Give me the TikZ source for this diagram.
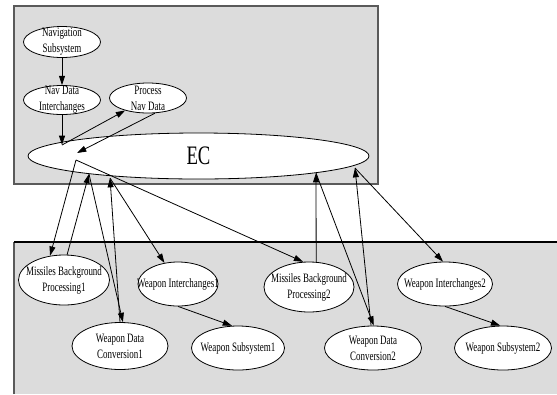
\documentclass[tikz,border=0pt]{standalone}
\usepackage{fontspec}
\newfontfamily\gvfont[FakeStretch=0.7]{Liberation Serif}
\usetikzlibrary{shapes.geometric,arrows.meta}
\definecolor{clusterfill}{RGB}{220,220,220}
\definecolor{clusterline}{RGB}{90,90,90}

\begin{document}
\begin{tikzpicture}[x=0.75pt,y=0.75pt,yscale=-1,xscale=1,
  task/.style={draw,ellipse,fill=white,line width=0.6pt,inner sep=0pt},
  tasktext/.style={font=\gvfont\fontsize{9.6}{12}\selectfont,align=center,inner sep=0pt},
  link/.style={line width=0.6pt,-{Triangle[length=7pt,width=4.5pt]}}]
\useasboundingbox (0,0) rectangle (557,394);

%Shape: Rectangle (upper cluster)
\draw [fill=clusterfill,draw=clusterline,line width=1pt] (14,6) rectangle (378,184);
%Shape: Rectangle (lower cluster)
\fill [clusterfill] (14,242) rectangle (557,394);
\draw [clusterline,line width=1pt] (14,394) -- (14,242);
\draw [line width=1pt] (14,242) -- (557,242);

%Shape: Ellipses (upper cluster)
\node [task,minimum width=57.75pt,minimum height=23.25pt,label={[tasktext]center:{Navigation\\Subsystem}}] (navsub) at (62,42) {};
\node [task,minimum width=57.75pt,minimum height=21.75pt,label={[tasktext]center:{Nav Data\\Interchanges}}] (navdata) at (62,100) {};
\node [task,minimum width=57.75pt,minimum height=22.5pt,label={[tasktext]center:{Process\\Nav Data}}] (procnav) at (148,98) {};
\node [task,minimum width=255.75pt,minimum height=34.5pt,label={[tasktext,font=\gvfont\fontsize{20}{22}\selectfont]center:EC}] (ec) at (198.5,156) {};

%Shape: Ellipses (lower cluster)
\node [task,minimum width=68.25pt,minimum height=37.5pt,label={[tasktext]center:{Missiles Background\\Processing1}}] (mbp1) at (64,280) {};
\node [task,minimum width=60pt,minimum height=33pt,label={[tasktext]center:{Weapon Interchanges1}}] (wi1) at (178,284) {};
\node [task,minimum width=72pt,minimum height=35.25pt,label={[tasktext]center:{Weapon Data\\Conversion1}}] (wdc1) at (120,346) {};
\node [task,minimum width=69.75pt,minimum height=33pt,label={[tasktext]center:{Weapon Subsystem1}}] (ws1) at (238,348) {};
\node [task,minimum width=67.5pt,minimum height=37.5pt,label={[tasktext]center:{Missiles Background\\Processing2}}] (mbp2) at (309,287) {};
\node [task,minimum width=71.25pt,minimum height=33pt,label={[tasktext]center:{Weapon Interchanges2}}] (wi2) at (445,284) {};
\node [task,minimum width=72.75pt,minimum height=33pt,label={[tasktext]center:{Weapon Data\\Conversion2}}] (wdc2) at (373,348) {};
\node [task,minimum width=72.75pt,minimum height=33pt,label={[tasktext]center:{Weapon Subsystem2}}] (ws2) at (503,348) {};

%Ports on EC
\coordinate (ecA) at (62,145);
\coordinate (ecB) at (77,153);
\coordinate (ecG) at (76,160);
\coordinate (ecC) at (89,174);
\coordinate (ecD) at (110,178);
\coordinate (ecE) at (316,173);
\coordinate (ecF) at (355,168);

%Straight Lines
\draw [link] (navsub) -- (navdata);
\draw [link] (navdata) -- (ecA);
\draw [link] (ecA) -- (procnav);
\draw [link] (procnav.295) -- (ecB);
\draw [link] (ecG) -- (mbp1.120);
\draw [link] (ecG) -- (mbp2.103);
\draw [link] (mbp1.83) -- (ecC);
\draw [link] (ecC) -- (wdc1.83);
\draw [link] (wdc1.north) -- (ecD);
\draw [link] (ecD) -- (wi1);
\draw [link] (mbp2.74) -- (ecE);
\draw [link] (ecE) -- (wdc2.88);
\draw [link] (wdc2.95) -- (ecF);
\draw [link] (ecF) -- (wi2.95);
\draw [link] (wi1.south) -- (ws1.105);
\draw [link] (wi2.south) -- (ws2.97);
\end{tikzpicture}
\end{document}
